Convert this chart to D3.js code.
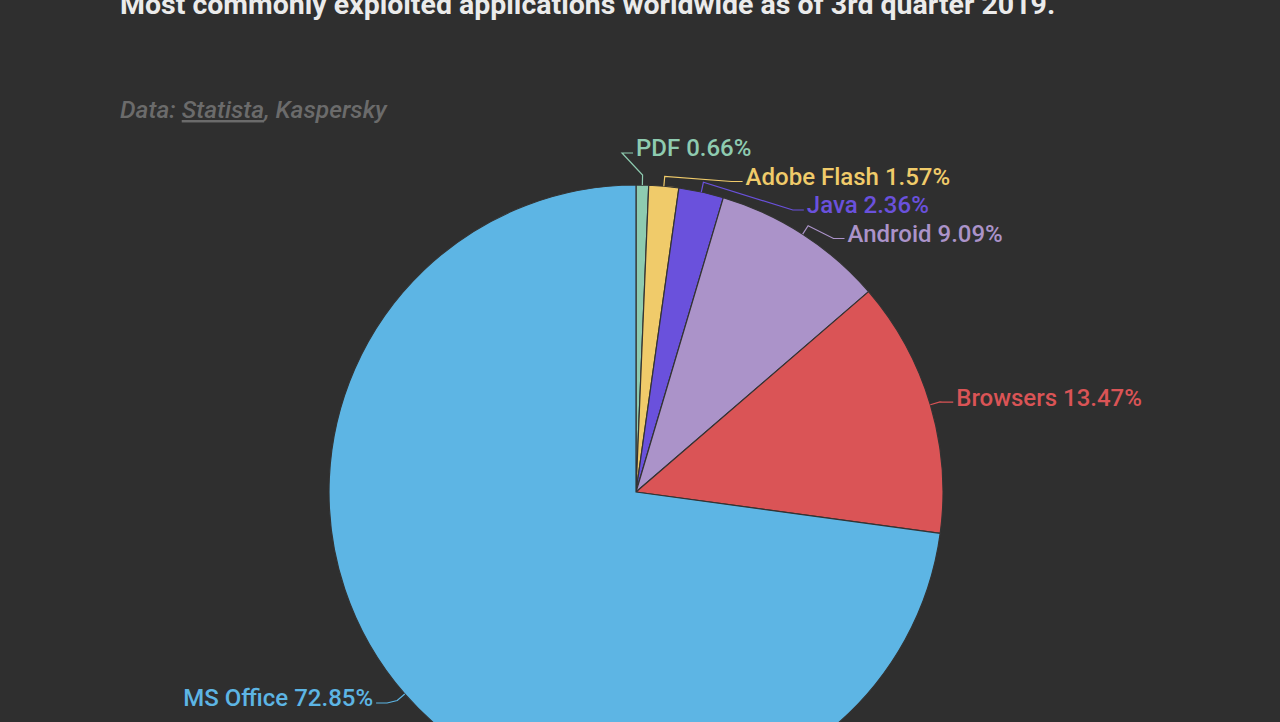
<!DOCTYPE html>
<html>
<head>
<meta charset="utf-8">
<script src="https://cdn.jsdelivr.net/npm/d3@7"></script>
<style>
  html, body { margin: 0; padding: 0; background: #2f2f2f; }
  svg { display: block; font-family: Roboto, "Noto Sans", sans-serif; }
</style>
</head>
<body>
<svg id="chart" width="1280" height="722"></svg>
<script>
// data, clockwise from 12 o'clock
const apps = ['PDF', 'Adobe Flash', 'Java', 'Android', 'Browsers', 'MS Office'];
const shares = [0.66, 1.57, 2.36, 9.09, 13.47, 72.85];
const colors = ['#8ecbb0', '#f0cb6a', '#6a51dc', '#ab93c9', '#da5456', '#5db5e4'];

const W = 1280, H = 722;
const cx = 636, cy = 492, r = 307;
const labelR = r + 27;      // radius of the circle labels sit on
const labelH = 28.5;        // vertical room per label
const labelTop = 148, labelBottom = 698;

const svg = d3.select('#chart');
svg.append('rect').attr('width', W).attr('height', H).attr('fill', '#2f2f2f');

// title + source
svg.append('text')
  .attr('x', 120).attr('y', 14)
  .attr('fill', '#ebebeb')
  .style('font-size', '28.5px').style('font-weight', 'bold')
  .text('Most commonly exploited applications worldwide as of 3rd quarter 2019.');

const src = svg.append('text')
  .attr('x', 120).attr('y', 118)
  .attr('fill', '#6b6b6b')
  .style('font-size', '24.6px').style('font-style', 'italic').style('font-weight', 500);
src.append('tspan').text('Data: ');
src.append('tspan').style('text-decoration', 'underline').text('Statista');
src.append('tspan').text(', Kaspersky');

const data = apps.map((a, i) => ({ name: a, value: shares[i], color: colors[i] }));

const pie = d3.pie().value(d => d.value).sort(null);
const arcs = pie(data);
const arc = d3.arc().innerRadius(0).outerRadius(r);

const g = svg.append('g').attr('transform', `translate(${cx},${cy})`);

g.selectAll('path.slice')
  .data(arcs)
  .enter().append('path')
  .attr('class', 'slice')
  .attr('d', arc)
  .attr('fill', d => d.data.color)
  .attr('stroke', '#333333')
  .attr('stroke-width', 1.2)
  .attr('stroke-linejoin', 'round');

// label layout: ideal y on the label circle, then spread overlapping ones apart
const mid = d => (d.startAngle + d.endAngle) / 2;
arcs.forEach(d => {
  const a = mid(d);
  d.side = Math.sin(a) >= 0 ? 1 : -1;
  d.target = -labelR * Math.cos(a);
});

function distribute(items) {
  let groups = items.slice().sort((a, b) => a.target - b.target)
    .map(d => ({ items: [d], pos: d.target }));
  const place = grp => {
    const n = grp.items.length;
    const mean = d3.mean(grp.items, d => d.target);
    grp.pos = mean - (n - 1) * labelH / 2;
    grp.pos = Math.max(grp.pos, labelTop - cy);
    grp.pos = Math.min(grp.pos, labelBottom - cy - (n - 1) * labelH);
  };
  groups.forEach(place);
  let merged = true;
  while (merged) {
    merged = false;
    for (let i = 0; i < groups.length - 1; i++) {
      const a = groups[i], b = groups[i + 1];
      if (a.pos + a.items.length * labelH > b.pos) {
        a.items = a.items.concat(b.items);
        place(a);
        groups.splice(i + 1, 1);
        merged = true;
        break;
      }
    }
  }
  groups.forEach(grp => grp.items.forEach((d, k) => { d.ly = grp.pos + k * labelH; }));
}
distribute(arcs.filter(d => d.side > 0));
distribute(arcs.filter(d => d.side < 0));

arcs.forEach(d => {
  const dx = Math.sqrt(Math.max(0, labelR * labelR - d.ly * d.ly));
  d.lx = d.side * dx;
});

// connectors
const line = d3.line();
g.selectAll('path.conn')
  .data(arcs)
  .enter().append('path')
  .attr('class', 'conn')
  .attr('fill', 'none')
  .attr('stroke', d => d.data.color)
  .attr('stroke-width', 1.2)
  .attr('d', d => {
    const a = mid(d);
    const p0 = [r * Math.sin(a), -r * Math.cos(a)];
    const p1 = [(r + 10) * Math.sin(a), -(r + 10) * Math.cos(a)];
    const p2 = [d.lx - d.side * 14, d.ly + 5];
    const p3 = [d.lx - d.side * 3, d.ly + 5];
    return line([p0, p1, p2, p3]);
  });

g.selectAll('text.lbl')
  .data(arcs)
  .enter().append('text')
  .attr('class', 'lbl')
  .attr('x', d => d.lx)
  .attr('y', d => d.ly)
  .attr('dy', '0.35em')
  .attr('text-anchor', d => d.side > 0 ? 'start' : 'end')
  .attr('fill', d => d.data.color)
  .style('font-size', '24px')
  .style('font-weight', 500)
  .text(d => `${d.data.name} ${d3.format('.2f')(d.data.value)}%`);
</script>
</body>
</html>
